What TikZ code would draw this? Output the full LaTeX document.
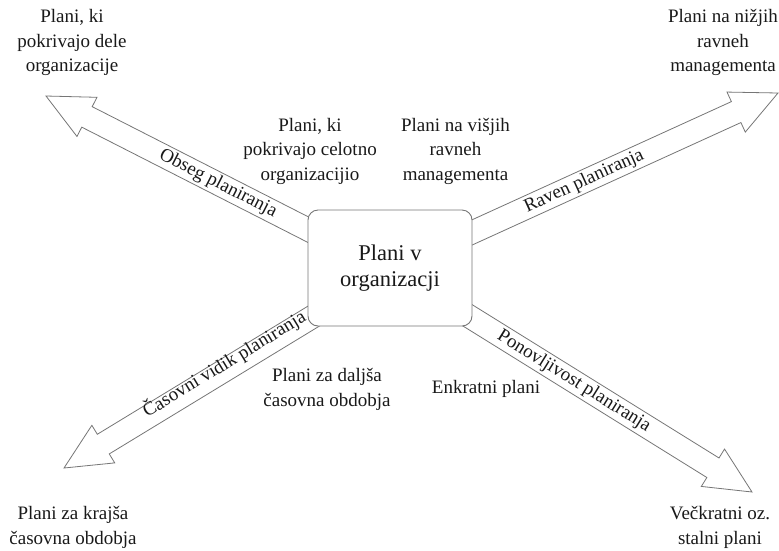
\documentclass[tikz,border=0pt]{standalone}
\usepackage{fontspec}
\setmainfont{Liberation Serif}
\usetikzlibrary{calc}

\definecolor{outline}{RGB}{118,118,118}
\definecolor{ink}{RGB}{25,25,25}

% Block arrow from a base point (hidden under the hub) to a tip:
% shaft 23pt wide, head 44pt wide and 46pt long.
% #1 name prefix, #2 tip coordinate, #3 base coordinate
\newcommand\blockarrow[3]{%
  \coordinate (#1-h) at ($(#2)!46pt!(#3)$);
  \draw[arrowbody]
    ($(#3)!11.5pt!90:(#2)$) -- ($(#1-h)!11.5pt!90:(#2)$) --
    ($(#1-h)!22pt!90:(#2)$) -- (#2) --
    ($(#1-h)!22pt!-90:(#2)$) -- ($(#1-h)!11.5pt!-90:(#2)$) --
    ($(#3)!11.5pt!-90:(#2)$) -- cycle;}

\begin{document}
\begin{tikzpicture}[
  x=1pt, y=-1pt,
  arrowbody/.style={draw=outline, line width=0.8pt, fill=white, line join=miter},
  hub/.style={draw=outline, line width=0.9pt, fill=white, rounded corners=10pt,
    minimum width=164pt, minimum height=116pt, inner sep=0pt, align=center,
    text=ink, font=\fontsize{22.5}{26}\selectfont},
  plan/.style={align=center, inner sep=0pt, text=ink,
    font=\fontsize{19}{24.4}\selectfont},
  axislabel/.style={sloped, inner sep=0pt, text=ink,
    font=\fontsize{19}{22}\selectfont}
]
\useasboundingbox (0,0) rectangle (779,550);

% arrow end points
\coordinate (ul-tip)  at (46,96);   \coordinate (ul-base) at (350,251);
\coordinate (ur-tip)  at (778,93);  \coordinate (ur-base) at (430,251.6);
\coordinate (ll-tip)  at (64,468);  \coordinate (ll-base) at (350,294);
\coordinate (lr-tip)  at (752,492); \coordinate (lr-base) at (430,292);

\blockarrow{ul}{ul-tip}{ul-base}
\blockarrow{ur}{ur-tip}{ur-base}
\blockarrow{ll}{ll-tip}{ll-base}
\blockarrow{lr}{lr-tip}{lr-base}

% central box
\node[hub] (hub) at (390,268) {Plani v\\organizacji};

% labels along the arrows
\path (ul-tip) -- (ul-base) node[axislabel, pos=0.566] (ul-label) {Obseg planiranja};
\path (ur-tip) -- (ur-base) node[axislabel, pos=0.557] (ur-label) {Raven planiranja};
\path ($(ll-tip)+(-3,-5)$) -- ($(ll-base)+(-3,-5)$)
  node[axislabel, pos=0.57] (ll-label) {Časovni vidik planiranja};
\path (lr-tip) -- (lr-base) node[axislabel, pos=0.553] (lr-label) {Ponovljivost planiranja};

% plan types at both ends of each dimension
\node[plan] (ul-far)  at (72,42.5)    {Plani, ki\\pokrivajo dele\\organizacije};
\node[plan] (ul-near) at (310,151.3)  {Plani, ki\\pokrivajo celotno\\organizacijio};
\node[plan] (ur-near) at (455.5,151.3){Plani na višjih\\ravneh\\managementa};
\node[plan] (ur-far)  at (723,42.5)   {Plani na nižjih\\ravneh\\managementa};
\node[plan] (ll-near) at (327,389.5)  {Plani za daljša\\časovna obdobja};
\node[plan] (ll-far)  at (73,527.5)   {Plani za krajša\\časovna obdobja};
\node[plan] (lr-near) at (486,388.5)  {Enkratni plani};
\node[plan] (lr-far)  at (720,527.5)  {Večkratni oz.\\stalni plani};
\end{tikzpicture}
\end{document}
